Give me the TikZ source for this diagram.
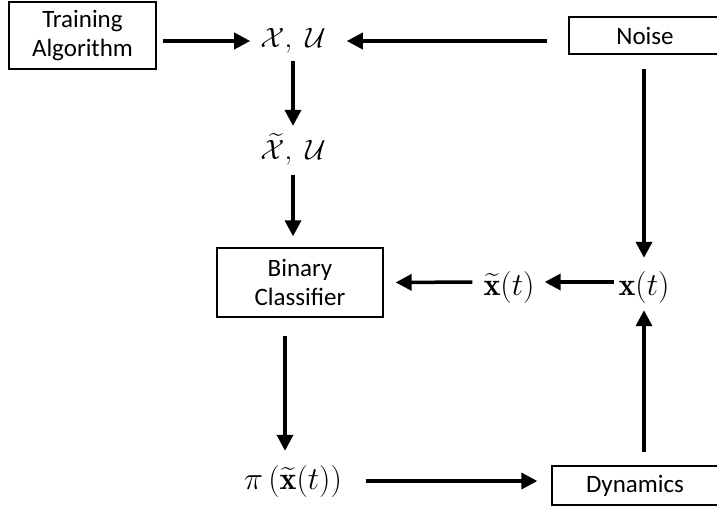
\RequirePackage{fix-cm}
\documentclass[tikz,border=0pt]{standalone}
\usepackage{amsmath}
\usepackage{fontspec}
\newfontfamily\calib{Carlito}
\usetikzlibrary{arrows.meta}

\begin{document}
\begin{tikzpicture}[x=1pt,y=-1pt,
    box/.style={draw,line width=1.3pt,inner sep=0pt,align=center,
      font=\calib\fontsize{25}{29}\selectfont},
    eq/.style={inner sep=0pt,font=\fontsize{32}{36}\selectfont},
    arr/.style={line width=3.5pt,-{Triangle[length=16pt,width=16pt]}}]
  \useasboundingbox (0,0) rectangle (717,507);

  \node[box,minimum width=147pt,minimum height=67pt] (T) at (82.5,35.5) {Training\\Algorithm};
  \node[box,minimum width=152pt,minimum height=37pt] (N) at (645,35.5) {Noise};
  \node[box,minimum width=166pt,minimum height=69pt] (B) at (300,282.5) {Binary\\Classifier};
  \node[box,minimum width=166pt,minimum height=39pt] (D) at (635,485.5) {Dynamics};

  \node[eq,font=\fontsize{28}{32}\selectfont] (X) at (293,41) {$\mathcal{X},\ \mathcal{U}$};
  \node[eq,font=\fontsize{28}{32}\selectfont] (Xt) at (293,149) {$\widetilde{\mathcal{X}},\ \mathcal{U}$};
  \node[eq] (Y) at (509,287) {$\widetilde{\mathbf{x}}(t)$};
  \node[eq] (S) at (644,287) {$\mathbf{x}(t)$};
  \node[eq] (P) at (293,481) {$\pi\left(\widetilde{\mathbf{x}}(t)\right)$};

  \draw[arr,shorten <=6pt,shorten >=10pt] (T.east |- X.west) -- (X.west);
  \draw[arr,shorten <=21pt,shorten >=21pt] (N.west |- X.east) -- (X.east);
  \draw[arr,shorten <=8pt,shorten >=7pt] (X.south) -- (Xt.north);
  \draw[arr,shorten <=10pt,shorten >=11pt] (Xt.south) -- (Xt.south |- B.north);
  \draw[arr,shorten <=14pt,shorten >=13pt] (S |- N.south) -- (S.north);
  \draw[arr,shorten <=4pt,shorten >=10pt] ([yshift=5pt]S.west) -- ([yshift=5pt]Y.east);
  \draw[arr,shorten <=11pt,shorten >=12pt] ([yshift=5pt]Y.west) -- (B.east);
  \draw[arr,shorten <=18pt,shorten >=14pt] ([xshift=-15pt]B.south) -- ([xshift=-8pt]P.north);
  \draw[arr,shorten <=24pt,shorten >=14pt] (P.east) -- (P.east -| D.west);
  \draw[arr,shorten <=13pt,shorten >=7pt] (S |- D.north) -- (S.south);
\end{tikzpicture}
\end{document}
